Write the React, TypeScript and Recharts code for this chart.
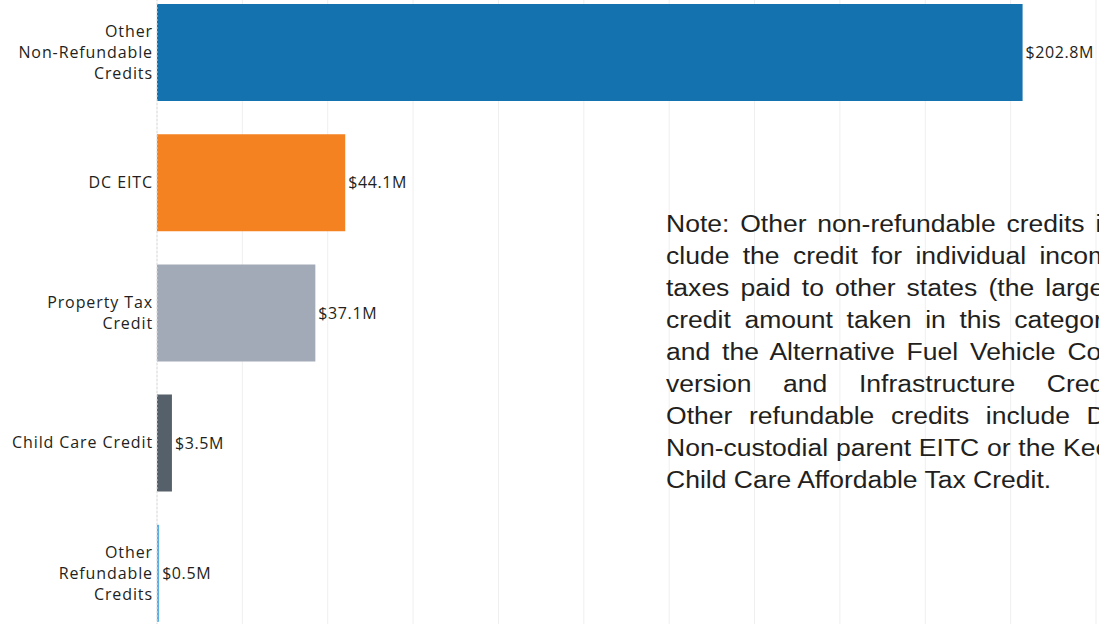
import React from 'react';
import { BarChart, Bar, XAxis, YAxis, CartesianGrid, Cell, LabelList } from 'recharts';

// Tax credits by type, in $ millions
const categories = [
  'Other\nNon-Refundable\nCredits',
  'DC EITC',
  'Property Tax\nCredit',
  'Child Care Credit',
  'Other\nRefundable\nCredits',
];
const amounts = [202.8, 44.1, 37.1, 3.5, 0.5];
const barColors = ['#1472ae', '#f58220', '#a3aab7', '#56606a', '#5dade2'];
const xTicks = [0, 20, 40, 60, 80, 100, 120, 140, 160, 180, 200, 220];

const noteLines = [
  'Note: Other non-refundable credits in-',
  'clude the credit for individual income',
  'taxes paid to other states (the largest',
  'credit amount taken in this category)',
  'and the Alternative Fuel Vehicle Con-',
  'version and Infrastructure Credit.',
  'Other refundable credits include DC',
  'Non-custodial parent EITC or the Keep',
  'Child Care Affordable Tax Credit.',
];

const data = categories.map((name, i) => ({ name, amount: amounts[i] }));

const labelFont = "'Open Sans', sans-serif";

const CategoryTick = (props: any) => {
  const { x, y, payload } = props;
  const lines = String(payload.value).split('\n');
  const lh = 21;
  const start = -((lines.length - 1) * lh) / 2;
  return (
    <text x={x} y={y} textAnchor="end" fill="#231f20" fontSize={16} fontFamily={labelFont} letterSpacing={0.9}>
      {lines.map((line, i) => (
        <tspan key={i} x={x} y={y + start + i * lh} dy="0.35em">
          {line}
        </tspan>
      ))}
    </text>
  );
};

const ValueLabel = (props: any) => {
  const { x, y, width, height, value } = props;
  return (
    <text
      x={x + width + 3}
      y={y + height / 2}
      dy="0.35em"
      fill="#231f20"
      fontSize={16}
      fontFamily={labelFont}
      letterSpacing={0.6}
    >
      {`$${Number(value).toFixed(1)}M`}
    </text>
  );
};

export default function App() {
  return (
    <div style={{ position: 'absolute', left: 0, top: 0, width: 1099, height: 624, overflow: 'hidden', background: '#fff' }}>
      <div style={{ position: 'absolute', left: 0, top: -13 }}>
        <BarChart
          width={1099}
          height={651}
          data={data}
          layout="vertical"
          margin={{ top: 0, right: 3, bottom: 0, left: 0 }}
        >
          <CartesianGrid horizontal={false} stroke="#efefef" />
          <XAxis type="number" domain={[0, 220]} ticks={xTicks} hide />
          <YAxis
            type="category"
            dataKey="name"
            width={157}
            tickLine={false}
            tickSize={0}
            tickMargin={4}
            axisLine={{ stroke: '#dddddd', strokeDasharray: '2 2' }}
            tick={<CategoryTick />}
            interval={0}
          />
          <Bar dataKey="amount" barSize={97} isAnimationActive={false}>
            {data.map((d, i) => (
              <Cell key={d.name} fill={barColors[i]} />
            ))}
            <LabelList dataKey="amount" content={<ValueLabel />} />
          </Bar>
        </BarChart>
      </div>
      <div
        style={{
          position: 'absolute',
          left: 666,
          top: 208,
          width: 398,
          transform: 'scaleX(1.153)',
          transformOrigin: 'left top',
          fontFamily: "'Liberation Sans', Arial, sans-serif",
          fontSize: 23,
          lineHeight: '32px',
          color: '#231f20',
        }}
      >
        {noteLines.map((line, i) => (
          <div
            key={i}
            style={{
              textAlign: 'justify',
              textAlignLast: i < noteLines.length - 1 ? 'justify' : 'left',
              whiteSpace: 'nowrap',
            }}
          >
            {line}
          </div>
        ))}
      </div>
    </div>
  );
}
